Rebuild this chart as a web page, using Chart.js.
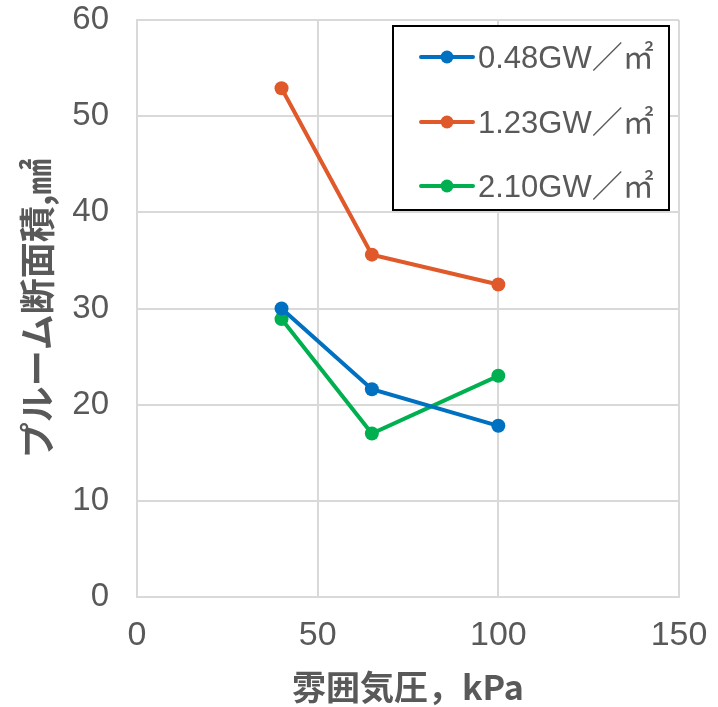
<!DOCTYPE html>
<html>
<head>
<meta charset="utf-8">
<script src="https://cdn.jsdelivr.net/npm/chart.js@4"></script>
<style>
html,body{margin:0;padding:0;background:#fff;}
#wrap{width:718px;height:707px;}
</style>
</head>
<body>
<div id="wrap"><canvas id="c" width="718" height="707"></canvas></div>
<script>
const pressures = [40, 65, 100];
const seriesLabels = ['0.48GW／㎡', '1.23GW／㎡', '2.10GW／㎡'];
const series048 = [30.0, 21.6, 17.8];
const series123 = [52.9, 35.6, 32.5];
const series210 = [28.9, 17.0, 23.0];
const colors = ['#0070C0', '#E0592A', '#00B050'];
const xTitle = '雰囲気圧，kPa';
const yTitle = 'プルーム断面積,㎟';

const allSeries = [series048, series123, series210];
const datasets = allSeries.map((vals, i) => ({
  label: seriesLabels[i],
  data: vals.map((v, j) => ({x: pressures[j], y: v})),
  borderColor: colors[i],
  backgroundColor: colors[i],
  borderWidth: 4,
  pointRadius: 7,
  pointHoverRadius: 7,
  pointBorderWidth: 0,
  tension: 0,
  showLine: true
}));

const boxLegend = {
  id: 'boxLegend',
  afterDraw(chart) {
    const ctx = chart.ctx;
    const x0 = 393, y0 = 26, w = 276, h = 184;
    ctx.save();
    ctx.fillStyle = '#fff';
    ctx.fillRect(x0, y0, w, h);
    ctx.strokeStyle = '#000';
    ctx.lineWidth = 2;
    ctx.strokeRect(x0, y0, w, h);
    const rows = [57, 122, 186];
    chart.data.datasets.forEach((ds, i) => {
      const y = rows[i];
      ctx.strokeStyle = ds.borderColor;
      ctx.lineWidth = 4;
      ctx.lineCap = 'round';
      ctx.beginPath();
      ctx.moveTo(421, y);
      ctx.lineTo(473, y);
      ctx.stroke();
      ctx.fillStyle = ds.borderColor;
      ctx.beginPath();
      ctx.arc(447, y, 6.5, 0, Math.PI * 2);
      ctx.fill();
      ctx.fillStyle = '#595959';
      ctx.font = '31px "Liberation Sans", "Noto Sans CJK JP", sans-serif';
      ctx.textBaseline = 'middle';
      ctx.textAlign = 'left';
      ctx.fillText(ds.label, 478, y + 2);
    });
    ctx.restore();
  }
};

new Chart(document.getElementById('c'), {
  type: 'scatter',
  data: { datasets },
  options: {
    responsive: false,
    animation: false,
    layout: { padding: { top: 20, right: 39, left: 0, bottom: 0 } },
    plugins: { legend: { display: false }, tooltip: { enabled: false } },
    scales: {
      x: {
        type: 'linear', min: 0, max: 150,
        ticks: { stepSize: 50, color: '#595959', padding: 18,
          font: { family: '"Liberation Sans", sans-serif', size: 34 } },
        grid: { color: '#d9d9d9', lineWidth: 2, drawTicks: false },
        border: { color: '#d9d9d9', width: 2 },
        title: { display: true, text: xTitle, color: '#595959', padding: { top: 2, bottom: 0 },
          font: { family: '"Noto Sans CJK JP", sans-serif', size: 34, weight: 'bold' } },
        afterFit(s) { s.height = 110; s.paddingLeft = 0; s.paddingRight = 0; }
      },
      y: {
        type: 'linear', min: 0, max: 60,
        ticks: { stepSize: 10, color: '#595959', padding: 28,
          font: { family: '"Liberation Sans", sans-serif', size: 33 } },
        grid: { color: '#d9d9d9', lineWidth: 2, drawTicks: false },
        border: { color: '#d9d9d9', width: 2 },
        title: { display: true, text: yTitle, color: '#595959', padding: { top: 16, bottom: 0 },
          font: { family: '"Noto Sans CJK JP", sans-serif', size: 36, weight: 'bold' } },
        afterFit(s) { s.width = 137; s.paddingTop = 0; s.paddingBottom = 0; }
      }
    }
  },
  plugins: [boxLegend]
});
</script>
</body>
</html>
